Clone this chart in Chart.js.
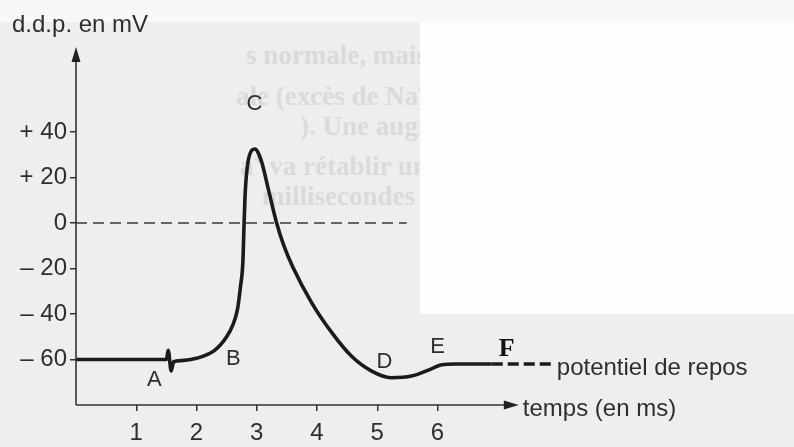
<!DOCTYPE html>
<html>
<head>
<meta charset="utf-8">
<script src="https://cdn.jsdelivr.net/npm/chart.js@4.4.1/dist/chart.umd.min.js"></script>
<style>
  html, body { margin: 0; padding: 0; }
  body { width: 794px; height: 447px; background: #eeeeee; position: relative; overflow: hidden; }
  .paper { position: absolute; left: 420px; top: 22px; width: 374px; height: 292px; background: #fdfdfd; }
  .topstrip { position: absolute; left: 0; top: 0; width: 794px; height: 22px; background: #f8f8f8; }
  .bleed { position: absolute; left: 0; top: 22px; width: 420px; height: 200px; overflow: hidden; }
  .bleed div { position: absolute; white-space: nowrap; font: bold 27px "Liberation Serif", serif; color: #dadada; }
  canvas { position: absolute; left: 0; top: 0; }
</style>
</head>
<body>
<div class="topstrip"></div>
<div class="paper"></div>
<div class="bleed">
  <div style="left:246px; top:18px">s normale, mais le vo</div>
  <div style="left:236px; top:54px">ale (excès de Na⁺, inter</div>
  <div style="left:300px; top:89px">). Une augmentation</div>
  <div style="left:240px; top:124px">a⁺ va rétablir une te</div>
  <div style="left:262px; top:159px">millisecondes (fig. 22</div>
</div>
<canvas id="ap-chart" width="794" height="447"></canvas>
<script>
// potentiel d'action

// temps (ms) et d.d.p. (mV) du tracé
const timeMs = [0, 1.0, 1.5, 1.53, 1.58, 1.62, 1.75, 2.0, 2.3, 2.5, 2.6, 2.68, 2.73, 2.77, 2.79, 2.81, 2.85, 2.92, 2.97, 3.02, 3.09, 3.2, 3.33, 3.45, 3.6, 3.91, 4.24, 4.57, 4.9, 5.23, 5.57, 5.9, 6.07, 6.3, 6.9];
const ddpMv = [-60, -60, -60, -56, -65, -61, -60.5, -59.5, -56, -50, -45, -38, -28, -17, 0, 14, 26, 32, 32.5, 31, 26, 14, 0, -10, -19.5, -35, -48, -58.5, -65, -68, -67.3, -64.1, -62.3, -62, -62];

// potentiel de repos (tirets)
const restTime = [6.9, 7.9];
const restMv = [-62, -62];

// ligne du zéro
const zeroTime = [0, 5.49];
const zeroMv = [0, 0];

const yTicks = [-60, -40, -20, 0, 20, 40];
const yTickLabels = ['– 60', '– 40', '– 20', '0', '+ 20', '+ 40'];
const xTicks = [1, 2, 3, 4, 5, 6];

const pointLabels = ['A', 'B', 'C', 'D', 'E', 'F'];
const pointLabelTime = [1.30, 2.61, 2.96, 5.12, 6.0, 7.15];
const pointLabelMv = [-69.2, -59.6, 52.3, -60.9, -54.7, -55.6];

const INK = '#1b1b1b';
const TEXT = '#2e2e2e';
const FONT = '"Liberation Sans", Arial, sans-serif';

function toXY(xs, ys) {
    return xs.map((x, i) => ({ x: x, y: ys[i] }));
}

// axes fléchés + lettres + titres
const decoPlugin = {
    id: 'deco',
    afterDraw(chart) {
        const ctx = chart.ctx;
        const xs = chart.scales.x;
        const ys = chart.scales.y;
        const x0 = xs.getPixelForValue(0);
        const yBot = ys.getPixelForValue(-80);
        const yTop = ys.getPixelForValue(76);
        const xEnd = xs.getPixelForValue(7.3);

        ctx.save();
        ctx.strokeStyle = '#333';
        ctx.fillStyle = '#222';
        ctx.lineWidth = 1.6;
        ctx.beginPath();
        ctx.moveTo(x0, yBot);
        ctx.lineTo(x0, yTop + 8);
        ctx.moveTo(x0, yBot);
        ctx.lineTo(xEnd - 8, yBot);
        ctx.stroke();
        // flèches
        ctx.beginPath();
        ctx.moveTo(x0, yTop - 3);
        ctx.lineTo(x0 - 4.5, yTop + 12);
        ctx.lineTo(x0 + 4.5, yTop + 12);
        ctx.closePath();
        ctx.fill();
        ctx.beginPath();
        ctx.moveTo(xEnd + 3, yBot);
        ctx.lineTo(xEnd - 12, yBot - 4.5);
        ctx.lineTo(xEnd - 12, yBot + 4.5);
        ctx.closePath();
        ctx.fill();

        // lettres
        ctx.textAlign = 'center';
        ctx.textBaseline = 'middle';
        pointLabels.forEach((lab, i) => {
            ctx.font = lab === 'F' ? 'bold 26px "Liberation Serif", serif' : '22px ' + FONT;
            ctx.fillStyle = lab === 'F' ? '#111' : TEXT;
            ctx.fillText(lab, xs.getPixelForValue(pointLabelTime[i]), ys.getPixelForValue(pointLabelMv[i]));
        });

        ctx.fillStyle = TEXT;
        ctx.textAlign = 'left';
        ctx.font = '24px ' + FONT;
        ctx.fillText('potentiel de repos', xs.getPixelForValue(7.98), ys.getPixelForValue(-64));
        ctx.fillText('temps (en ms)', xEnd + 7, yBot + 4);
        ctx.fillText('d.d.p. en mV', 12, 25);
        ctx.restore();
    }
};

const apData = {
    datasets: [{
        data: toXY(timeMs, ddpMv),
        borderColor: INK,
        borderWidth: 3.6,
        pointRadius: 0,
        cubicInterpolationMode: 'monotone',
        fill: false
    }, {
        data: toXY(restTime, restMv),
        borderColor: INK,
        borderWidth: 3.6,
        borderDash: [11, 5],
        pointRadius: 0,
        fill: false
    }, {
        data: toXY(zeroTime, zeroMv),
        borderColor: '#3a3a3a',
        borderWidth: 1.6,
        borderDash: [11, 6],
        pointRadius: 0,
        fill: false
    }]
};

const apConfig = {
    type: 'line',
    data: apData,
    options: {
        responsive: false,
        animation: false,
        layout: {
            padding: { top: 50, right: 236, left: 0, bottom: 0 }
        },
        plugins: {
            legend: { display: false },
            tooltip: { enabled: false }
        },
        scales: {
            x: {
                type: 'linear',
                min: 0,
                max: 8,
                afterBuildTicks(scale) {
                    scale.ticks = xTicks.map(v => ({ value: v }));
                },
                afterFit(scale) {
                    scale.height = 42;
                },
                border: { display: false },
                grid: {
                    drawOnChartArea: false,
                    drawTicks: true,
                    tickLength: 6,
                    color: '#333',
                    lineWidth: 1.5
                },
                ticks: {
                    color: TEXT,
                    font: { family: FONT, size: 24 },
                    padding: 8,
                    maxRotation: 0
                }
            },
            y: {
                min: -80,
                max: 76,
                afterBuildTicks(scale) {
                    scale.ticks = yTicks.map(v => ({ value: v }));
                },
                afterFit(scale) {
                    scale.width = 76;
                },
                border: { display: false },
                grid: {
                    drawOnChartArea: false,
                    drawTicks: true,
                    tickLength: 6,
                    color: '#333',
                    lineWidth: 1.5
                },
                ticks: {
                    color: TEXT,
                    font: { family: FONT, size: 24 },
                    padding: 3,
                    callback: (v) => yTickLabels[yTicks.indexOf(v)]
                }
            }
        }
    },
    plugins: [decoPlugin]
};

var apchart = new Chart(
    document.getElementById('ap-chart'),
    apConfig
);
</script>
</body>
</html>
